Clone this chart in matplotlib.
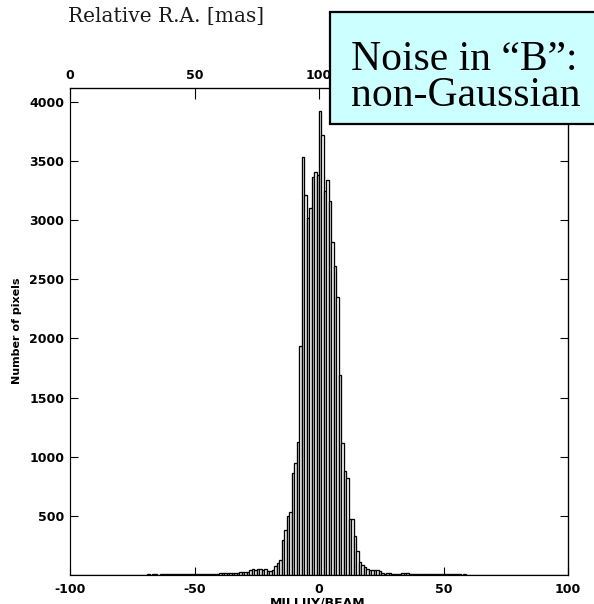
import matplotlib
matplotlib.use('Agg')
import matplotlib.pyplot as plt
from matplotlib.patches import Rectangle

# ---- data (histogram, bin width 1 mJy/beam, left edges -100..99) ----
tail_left = [1, 2, 1, 1, 2, 1, 2, 2, 1, 2,
             2, 1, 2, 3, 2, 2, 3, 2, 3, 3,
             3, 2, 3, 4, 3, 3, 4, 3, 4, 4,
             4, 5, 4, 5, 5, 4, 5, 6, 5, 6,
             6, 5, 6, 7, 6, 7, 7, 8, 7, 8,
             8, 9, 8, 10, 9, 11, 10, 12, 11, 12,
             14, 13, 16, 15, 17]
core = [19, 19, 20, 22, 27, 25, 28, 45, 48, 44,
        52, 50, 40, 52, 33, 35, 42, 80, 103, 125,
        295, 380, 500, 535, 865, 949, 1120, 1938, 3530, 3210,
        3020, 3105, 3367, 3410, 3381, 3920, 3719, 3246, 3339, 3161,
        2818, 2614, 2352, 1690, 1118, 882, 823, 475, 475, 330,
        200, 106, 82, 65, 48, 40, 40, 40, 40, 38,
        16]
tail_right = [12, 15, 14, 10, 9, 11, 10, 14, 15, 13,
              10, 9, 11, 8, 10, 9, 12, 8, 10, 9,
              8, 10, 7, 9, 8, 10, 7, 12, 8, 5,
              5, 4, 5, 4, 4, 3, 4, 3, 3, 4,
              3, 3, 2, 3, 3, 2, 3, 2, 2, 3,
              2, 2, 3, 2, 2, 1, 2, 2, 1, 2,
              2, 1, 2, 1, 1, 2, 1, 1, 2, 1,
              1, 1, 2, 1]
counts = tail_left + core + tail_right
bin_left = list(range(-100, 100))

x_ticks = [-100, -50, 0, 50, 100]
y_ticks = [500, 1000, 1500, 2000, 2500, 3000, 3500, 4000]
top_ticks = [0, 50, 100, 150, 200]
top_labels = ['0', '50', '100', '', '']   # 150 and 200 are hidden by the box

W, H = 594, 604
fig = plt.figure(figsize=(W / 100, H / 100), dpi=100)
ax = fig.add_axes([70 / W, 1 - 575 / H, 498 / W, 487.5 / H])

ax.bar(bin_left, counts, width=1, align='edge', facecolor='white',
       edgecolor='black', linewidth=0.95, zorder=2)

ax.set_xlim(-100, 100)
ax.set_ylim(0, 4120)
ax.set_xticks(x_ticks)
ax.set_yticks(y_ticks)
tick_font = dict(family='DejaVu Sans', weight='bold', size=9)
ax.set_xticklabels([str(t) for t in x_ticks], fontdict=tick_font)
ax.set_yticklabels([str(t) for t in y_ticks], fontdict=tick_font)
ax.tick_params(axis='both', direction='in', length=6, width=0.8,
               top=False, right=True)
ax.tick_params(axis='x', pad=6)
ax.tick_params(axis='y', pad=4)
for s in ['left', 'bottom']:
    ax.spines[s].set_color('0.4')
    ax.spines[s].set_linewidth(0.8)
for s in ['top', 'right']:
    ax.spines[s].set_linewidth(0.9)

ax.set_ylabel('Number of pixels', family='DejaVu Sans', weight='bold',
              size=8, labelpad=5)

ax2 = ax.twiny()
ax2.set_xlim(0, 200)
ax2.set_xticks(top_ticks)
ax2.set_xticklabels(top_labels, fontdict=tick_font)
ax2.tick_params(axis='x', direction='in', length=8, width=0.8, pad=4)

fig.text(318 / W, 1 - 597 / H, 'MILLIJY/BEAM', family='DejaVu Sans',
         weight='bold', size=9, ha='center', va='top')

fig.text(68 / W, 1 - 22 / H, 'Relative R.A. [mas]', family='DejaVu Serif',
         size=14.5, ha='left', va='baseline', color='0.1')

# annotation box
box = Rectangle((330 / W, 1 - 124 / H), 280 / W, 112 / H, transform=fig.transFigure,
                facecolor='#ccffff', edgecolor='black', linewidth=1.6, zorder=5)
fig.patches.append(box)
fig.text(351 / W, 1 - 106 / H, 'Noise in \u201cB\u201d:\nnon-Gaussian',
         family='Liberation Serif', size=30, ha='left', va='baseline',
         linespacing=0.93, zorder=6)

fig.savefig('out.png', dpi=100)
